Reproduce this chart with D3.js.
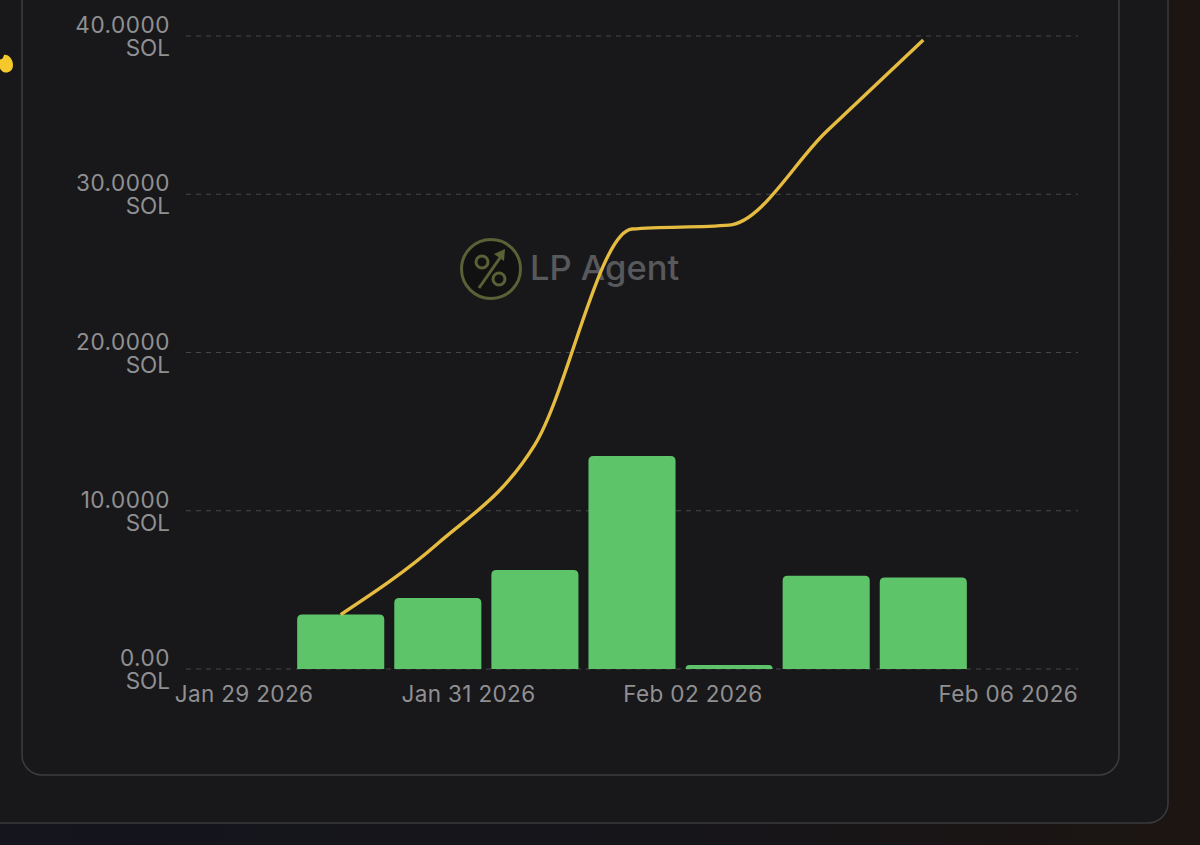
<!DOCTYPE html>
<html>
<head>
<meta charset="utf-8">
<script src="https://cdnjs.cloudflare.com/ajax/libs/d3/7.8.5/d3.min.js"></script>
<style>
html,body{margin:0;padding:0;background:#141419;overflow:hidden}
svg{display:block}
text{font-family:Inter,"Liberation Sans",sans-serif}
</style>
</head>
<body>
<svg id="c" width="1200" height="845"></svg>
<script>
const allDays = ["Jan 29","Jan 30","Jan 31","Feb 01","Feb 02","Feb 03","Feb 04","Feb 05","Feb 06"];
const barDays = ["Jan 30","Jan 31","Feb 01","Feb 02","Feb 03","Feb 04","Feb 05"];
const dailyPnl = [3.44, 4.49, 6.25, 13.46, 0.25, 5.90, 5.78];
const cumulativePnl = [3.44, 7.93, 14.18, 27.80, 28.05, 33.95, 39.75];
const yTicks = [0, 10, 20, 30, 40];
const yTickLabels = ["0.00", "10.0000", "20.0000", "30.0000", "40.0000"];
const xTickLabels = ["Jan 29 2026", "Jan 31 2026", "Feb 02 2026", "Feb 06 2026"];
const xTickSlots = [0, 2, 4];

const svg = d3.select("#c");
const defs = svg.append("defs");
const g = defs.append("linearGradient").attr("id","bg").attr("x1",0).attr("x2",1).attr("y1",0).attr("y2",0);
g.append("stop").attr("offset","0%").attr("stop-color","#14151d");
g.append("stop").attr("offset","55%").attr("stop-color","#16151a");
g.append("stop").attr("offset","100%").attr("stop-color","#1c1512");
svg.append("rect").attr("width",1200).attr("height",845).attr("fill","url(#bg)");

// frames
svg.append("rect").attr("x",-60).attr("y",-60).attr("width",1228).attr("height",883).attr("rx",20)
  .attr("fill","#18181b").attr("stroke","#3a3a3d").attr("stroke-width",1.5);
svg.append("rect").attr("x",22).attr("y",-60).attr("width",1097).attr("height",835).attr("rx",20)
  .attr("fill","#18181a").attr("stroke","#3c3c3f").attr("stroke-width",1.5);
// stray yellow mark at left edge
svg.append("path").attr("d","M-2,58 C1,61 3,59 4,55 C8,54 13,59 13,65 C13,73 5,74 2,71 C0,69 -2,66 -2,58Z").attr("fill","#f5c92c");

const left = 186, right = 1078;
const y = d3.scaleLinear().domain([0,40]).range([669,36]);
const x = d3.scaleBand().domain(allDays).range([left,right]).paddingInner(0.103).paddingOuter(0.145);
const mid = d => x(d) + x.bandwidth()/2;

// grid
svg.append("g").selectAll("line").data(yTicks).join("line")
  .attr("x1",left).attr("x2",right).attr("y1",d=>y(d)).attr("y2",d=>y(d))
  .attr("stroke","#47474a").attr("stroke-width",1.2).attr("stroke-dasharray","5 5");

// y labels: one text element with two lines
const yl = svg.append("g").attr("fill","#909092").attr("font-size",22.5).attr("text-anchor","end");
yTicks.forEach((t,i)=>{
  const label = yl.append("text").attr("y",y(t)-3);
  label.append("tspan").attr("x",170).attr("letter-spacing",0.55).text(yTickLabels[i]);
  label.append("tspan").attr("x",170).attr("dy",23).text("SOL");
});

// x labels
const xl = svg.append("g").attr("fill","#909092").attr("font-size",22.5).attr("letter-spacing",0.35);
const xt = d3.scaleLinear().domain([0,4]).range([244,693]);
xTickSlots.forEach((s,i)=>{
  xl.append("text").attr("x",xt(s)).attr("y",702).attr("text-anchor","middle").text(xTickLabels[i]);
});
xl.append("text").attr("x",right).attr("y",702).attr("text-anchor","end").text(xTickLabels[3]);

// watermark
const wm = svg.append("g").attr("transform","translate(491,269)");
const olive = "#5c6037";
wm.append("circle").attr("r",29.5).attr("fill","#111112").attr("stroke",olive).attr("stroke-width",3);
wm.append("circle").attr("cx",-9).attr("cy",-7).attr("r",6).attr("fill","none").attr("stroke",olive).attr("stroke-width",3);
wm.append("circle").attr("cx",8).attr("cy",10).attr("r",6).attr("fill","none").attr("stroke",olive).attr("stroke-width",3);
wm.append("line").attr("x1",-12).attr("y1",19).attr("x2",11).attr("y2",-14).attr("stroke",olive).attr("stroke-width",3);
wm.append("path").attr("d","M14,-20 L3,-15 L13,-8Z").attr("fill",olive);
svg.append("text").attr("x",530).attr("y",280).attr("font-size",34.5).attr("font-weight",500)
  .attr("fill","#58595d").text("LP Agent");

// bars
svg.append("g").selectAll("path").data(barDays).join("path")
  .attr("fill","#5ec46a")
  .attr("d",(d,i)=>{
    const x0=x(d), w=x.bandwidth(), t=y(dailyPnl[i]), b=y(0), r=Math.min(5,(b-t));
    return `M${x0},${b}V${t+r}Q${x0},${t} ${x0+r},${t}H${x0+w-r}Q${x0+w},${t} ${x0+w},${t+r}V${b}Z`;
  });

// cumulative line
const line = d3.line().x((d,i)=>mid(barDays[i])).y(d=>y(d)).curve(d3.curveMonotoneX);
svg.append("path").datum(cumulativePnl).attr("d",line).attr("fill","none")
  .attr("stroke","#e5bb40").attr("stroke-width",3.4);
</script>
</body>
</html>
